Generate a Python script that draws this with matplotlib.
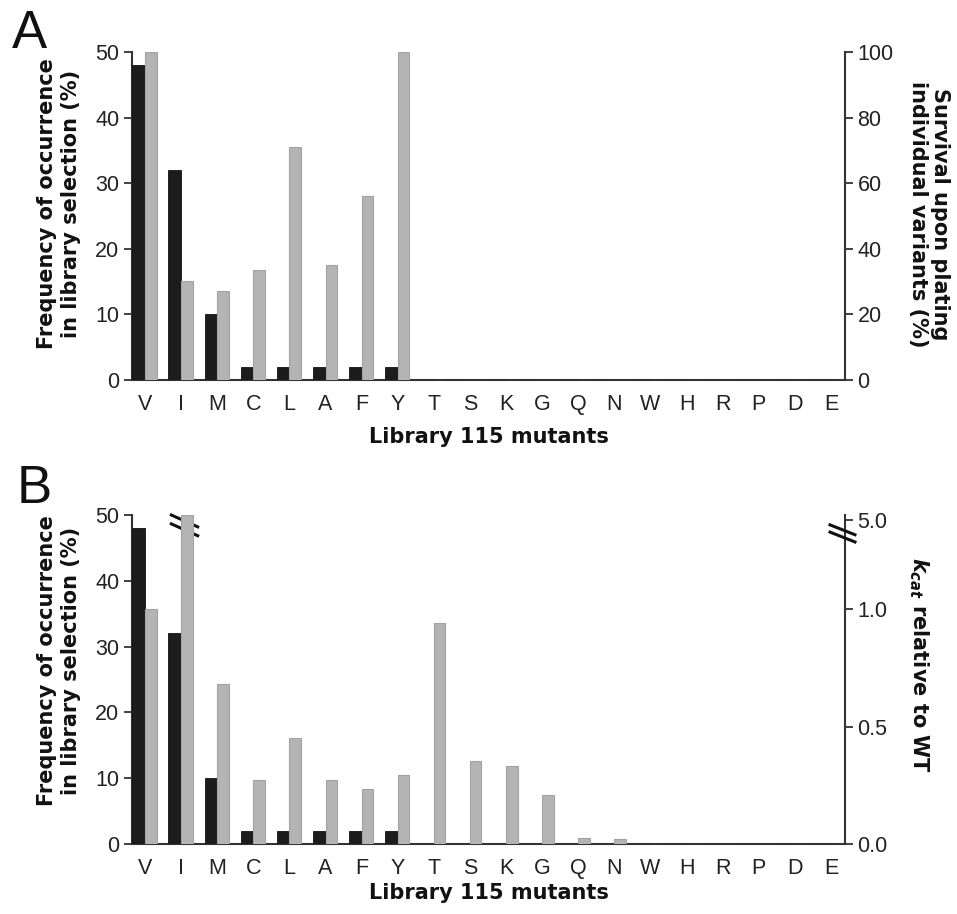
import numpy as np
import matplotlib
matplotlib.use("Agg")
import matplotlib.pyplot as plt

plt.rcParams['font.family'] = ['Liberation Sans', 'DejaVu Sans']
plt.rcParams['mathtext.fontset'] = 'custom'
plt.rcParams['mathtext.it'] = 'DejaVu Sans:italic:bold'
plt.rcParams['mathtext.rm'] = 'DejaVu Sans:bold'

# data
mutants = ['V', 'I', 'M', 'C', 'L', 'A', 'F', 'Y', 'T', 'S',
           'K', 'G', 'Q', 'N', 'W', 'H', 'R', 'P', 'D', 'E']
freq = [48, 32, 10, 2, 2, 2, 2, 2, 0, 0, 0, 0, 0, 0, 0, 0, 0, 0, 0, 0]
survival = [100, 30.3, 27.1, 33.5, 71.0, 35.1, 56.0, 100,
            0, 0, 0, 0, 0, 0, 0, 0, 0, 0, 0, 0]
kcat = [1.0, 5.0, 0.68, 0.273, 0.452, 0.273, 0.233, 0.293, 0.94, 0.352,
        0.332, 0.21, 0.025, 0.023, 0, 0, 0, 0, 0, 0]
freq_ticks = [0, 10, 20, 30, 40, 50]
surv_ticks = [0, 20, 40, 60, 80, 100]
kcat_ticks = [0.0, 0.5, 1.0]
kcat_break_label = '5.0'

BLACK = '#1c1c1c'
GREY = '#b4b4b4'
SPINE = '#333333'
TXT = '#222222'
LAB = dict(family='DejaVu Sans', fontweight='bold', fontsize=15, color='#111111')

x = np.arange(len(mutants))
W, H = 957, 914
fig = plt.figure(figsize=(W / 100, H / 100), dpi=100)


def style(ax, ax2):
    for s in ['top', 'right']:
        ax.spines[s].set_visible(False)
    for s in ['top', 'left', 'bottom']:
        ax2.spines[s].set_visible(False)
    for sp in [ax.spines['left'], ax.spines['bottom'], ax2.spines['right']]:
        sp.set_color(SPINE)
        sp.set_linewidth(1.5)
    ax.tick_params(axis='y', direction='out', length=6, width=1.3, pad=3,
                   labelsize=15.5, colors=SPINE, labelcolor=TXT)
    ax2.tick_params(axis='y', direction='out', length=6, width=1.3, pad=3,
                    labelsize=15.5, colors=SPINE, labelcolor=TXT)
    ax.tick_params(axis='x', length=0, pad=10, labelsize=15.5, labelcolor=TXT)
    ax.set_xlim(-0.36, 19.39)
    ax.set_xticks(x)
    ax.set_xticklabels(mutants)
    ax.set_ylim(0, 50)
    ax.set_yticks(freq_ticks)
    ax.bar(x, freq, width=-0.35, align='edge', color=BLACK,
           edgecolor='#111111', linewidth=0.6, zorder=3)


def fy(y):
    return 1 - y / H


# ---- panel A
axA = fig.add_axes([132 / W, fy(380), 713 / W, 328 / H])
axA2 = axA.twinx()
style(axA, axA2)
axA2.set_ylim(0, 100)
axA2.set_yticks(surv_ticks)
axA2.bar(x, survival, width=0.32, align='edge', color=GREY,
         edgecolor='#a2a2a2', linewidth=0.8, zorder=3)

# ---- panel B
axB = fig.add_axes([132 / W, fy(844), 713 / W, 329 / H])
axB2 = axB.twinx()
style(axB, axB2)
ktop = 329 / 234.7
axB2.set_ylim(0, ktop)
kpos = kcat_ticks + [1.38]
axB2.set_yticks(kpos)
axB2.set_yticklabels(['%.1f' % v for v in kcat_ticks] + [kcat_break_label])
axB2.bar(x, np.minimum(kcat, ktop), width=0.32, align='edge', color=GREY,
         edgecolor='#a2a2a2', linewidth=0.8, zorder=3)

# break marks on the I bar and on the right axis
for dy in [0, 1.35]:
    axB.plot([0.73, 1.46], [50.0 - dy, 48.2 - dy], color='#111111', lw=2.2,
             clip_on=False, zorder=5)
for dy in [0, 0.022]:
    axB2.plot([0.979, 1.014], [0.97 - dy, 0.94 - dy], color='#111111', lw=2.2,
              transform=axB2.transAxes, clip_on=False, zorder=5)

# ---- labels
freq_label = 'Frequency of occurrence\nin library selection (%)'
fig.text(59 / W, fy(204), freq_label, rotation=90, ha='center', va='center',
         multialignment='center', linespacing=1.3, **LAB)
fig.text(59 / W, fy(661), freq_label, rotation=90, ha='center', va='center',
         multialignment='center', linespacing=1.3, **LAB)
fig.text(929 / W, fy(214), 'Survival upon plating\nindividual variants (%)',
         rotation=270, ha='center', va='center', multialignment='center',
         linespacing=1.15, **LAB)
fig.text(919 / W, fy(665), r'$k_{cat}$ relative to WT', rotation=270,
         ha='center', va='center', **LAB)
fig.text(489 / W, fy(437), 'Library 115 mutants', ha='center', va='center', **LAB)
fig.text(489 / W, fy(893), 'Library 115 mutants', ha='center', va='center', **LAB)

fig.text(12 / W, fy(48), 'A', fontsize=38, color='#111111', ha='left', va='baseline')
fig.text(17 / W, fy(503), 'B', fontsize=38, color='#111111', ha='left', va='baseline')

fig.savefig('out.png', dpi=100)
